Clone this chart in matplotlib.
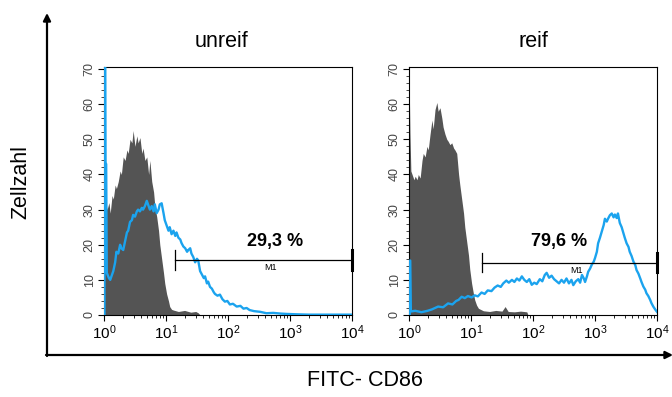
import numpy as np
import matplotlib
matplotlib.use("Agg")
import matplotlib.pyplot as plt
from matplotlib.patches import FancyArrowPatch
from matplotlib.ticker import LogLocator, LogFormatterMathtext, MultipleLocator, NullFormatter

plt.rcParams["font.family"] = ["Liberation Sans", "DejaVu Sans"]
plt.rcParams["mathtext.fontset"] = "custom"
plt.rcParams["mathtext.rm"] = "Liberation Sans"
plt.rcParams["mathtext.it"] = "Liberation Sans:italic"
plt.rcParams["mathtext.bf"] = "Liberation Sans:bold"

panel_titles   = ["unreif", "reif"]
percent_labels = ["29,3 %", "79,6 %"]
gate_start     = [1.15, 1.17]     # gate M1 start, log10 units
gate_level     = [15.7, 14.9]     # height of gate bar (counts)

# x values are in decades (log10 of fluorescence), y are cell counts
# --- unreif: isotype control (grey) ---
iso_unreif_x = [0.00, 0.00, 0.05, 0.08, 0.10, 0.13, 0.15, 0.18, 0.20, 0.23,
                0.26, 0.28, 0.31, 0.34, 0.37, 0.39, 0.42, 0.45, 0.47, 0.50,
                0.53, 0.55, 0.58, 0.61, 0.63, 0.66, 0.69, 0.72, 0.74, 0.77,
                0.80, 0.82, 0.85, 0.88, 0.90, 0.93, 0.96, 0.98, 1.01, 1.04,
                1.06, 1.09, 1.12, 1.20, 1.30, 1.40, 1.48, 1.52, 1.55]
iso_unreif_y = [0, 34, 30, 32, 29, 34, 33, 37, 36, 38,
                41, 40, 45, 44, 47, 46, 50, 49, 52.5, 48,
                51, 49, 50.5, 46, 47.5, 44, 45, 40, 44, 38,
                35, 31, 28, 24, 20, 16, 12, 9, 6, 4,
                2.4, 1.6, 1.4, 1.0, 1.3, 0.8, 1.0, 0.6, 0]

# --- unreif: CD86 stain (blue) ---
cd86_unreif_x = [0.008, 0.008, 0.02, 0.025, 0.035, 0.045, 0.08, 0.10, 0.12, 0.15,
                 0.18, 0.20, 0.23, 0.26, 0.28, 0.31, 0.34, 0.37, 0.39, 0.42,
                 0.45, 0.47, 0.50, 0.53, 0.55, 0.58, 0.61, 0.63, 0.66, 0.69,
                 0.72, 0.74, 0.77, 0.80, 0.82, 0.85, 0.88, 0.90, 0.93, 0.96,
                 0.98, 1.01, 1.04, 1.06, 1.09, 1.12, 1.15, 1.17, 1.20, 1.23,
                 1.25, 1.28, 1.31, 1.34, 1.36, 1.39, 1.41, 1.44, 1.47, 1.50,
                 1.52, 1.55, 1.58, 1.61, 1.63, 1.66, 1.68, 1.71, 1.74, 1.77,
                 1.79, 1.83, 1.87, 1.91, 1.95, 1.99, 2.03, 2.08, 2.14, 2.20,
                 2.25, 2.30, 2.35, 2.42, 2.52, 2.62, 2.73, 2.85, 2.95, 3.10,
                 3.30, 3.60, 4.00]
cd86_unreif_y = [0, 75, 75, 43, 43, 12, 10.5, 10, 11, 12.5,
                 15, 18, 17.5, 20, 19, 18.5, 21, 23.5, 24, 26.5,
                 27, 28.5, 28, 29.5, 30, 29.5, 30.5, 30, 31, 32.5,
                 31, 30, 31, 29.5, 31.5, 29, 30, 31.5, 31.8, 29,
                 27, 25.5, 24, 25, 23, 24, 22.5, 23.5, 22, 21.5,
                 20.5, 19.5, 19, 18, 18.5, 19, 17.5, 16.5, 15, 16,
                 15.5, 12.5, 11.5, 10.5, 11, 9, 9.5, 8, 7.5, 6.5,
                 6, 5.5, 5.8, 4.5, 3.8, 4, 3, 3.2, 2.4, 2.6,
                 1.8, 2, 1.4, 1.1, 0.9, 0.5, 0.6, 0.4, 0.3, 0.2,
                 0.1, 0.1, 0.1]

# --- reif: isotype control (grey) ---
iso_reif_x = [0.00, 0.00, 0.015, 0.03, 0.05, 0.08, 0.10, 0.13, 0.15, 0.18,
              0.21, 0.23, 0.26, 0.29, 0.31, 0.34, 0.37, 0.39, 0.42, 0.45,
              0.47, 0.50, 0.53, 0.55, 0.58, 0.61, 0.63, 0.66, 0.69, 0.72,
              0.74, 0.77, 0.80, 0.82, 0.85, 0.88, 0.90, 0.93, 0.96, 0.98,
              1.01, 1.04, 1.06, 1.09, 1.12, 1.20, 1.30, 1.40, 1.50, 1.55,
              1.60, 1.70, 1.80, 1.90, 1.92]
iso_reif_y = [0, 70, 52, 41, 40, 38.5, 39.5, 38.5, 40, 39,
              44, 46, 45, 48, 47, 51.5, 55.5, 53, 58.5, 60.5,
              58, 59, 56, 53.5, 51.5, 50, 49.5, 48.5, 49, 47.5,
              47, 46, 40, 37, 33, 29, 25, 21, 17, 13,
              9, 6, 4.3, 2.8, 1.9, 1.2, 1.0, 1.3, 1.1, 2.4,
              1.0, 0.9, 1.1, 0.9, 0]

# --- reif: CD86 stain (blue) ---
cd86_reif_x = [0.012, 0.012, 0.02, 0.03, 0.10, 0.20, 0.30, 0.37, 0.42, 0.47, 0.55,
               0.63, 0.70, 0.76, 0.80, 0.85, 0.90, 0.95, 1.01, 1.06, 1.11,
               1.17, 1.22, 1.27, 1.33, 1.38, 1.43, 1.48, 1.52, 1.57, 1.61,
               1.66, 1.70, 1.74, 1.78, 1.82, 1.86, 1.90, 1.94, 1.98, 2.02,
               2.06, 2.11, 2.15, 2.19, 2.22, 2.26, 2.30, 2.34, 2.38, 2.42,
               2.46, 2.50, 2.54, 2.58, 2.62, 2.65, 2.69, 2.73, 2.76, 2.79,
               2.82, 2.84, 2.87, 2.89, 2.92, 2.95, 2.98, 3.00, 3.03, 3.05,
               3.08, 3.11, 3.14, 3.16, 3.19, 3.21, 3.24, 3.27, 3.30, 3.32,
               3.35, 3.37, 3.40, 3.43, 3.46, 3.48, 3.51, 3.54, 3.56, 3.59,
               3.62, 3.65, 3.67, 3.70, 3.73, 3.75, 3.78, 3.81, 3.83, 3.86,
               3.89, 3.91, 3.94, 3.97, 4.00]
cd86_reif_y = [0, 15.5, 15.5, 1.0, 1.2, 0.8, 1.2, 1.6, 2.0, 2.4, 2.2,
               3.3, 3.0, 4.0, 4.3, 5.2, 4.8, 5.4, 5.0, 5.6, 5.3,
               6.4, 6.0, 7.0, 6.8, 7.8, 8.4, 8.0, 9.0, 9.8, 9.2,
               10.0, 9.4, 10.4, 9.8, 11.0, 10.0, 9.4, 10.2, 8.6, 9.2,
               8.8, 10.2, 9.6, 11.4, 12.0, 10.6, 11.2, 10.2, 9.6, 9.0,
               10.0, 9.2, 10.4, 9.0, 10.0, 8.5, 9.6, 10.2, 9.2, 11.4,
               10.4, 9.4, 11.0, 12.3, 13.2, 14.4, 15.2, 16.2, 18.0, 20.4,
               22.0, 23.8, 25.6, 27.4, 26.6, 27.4, 28.4, 28.9, 27.8, 28.6,
               27.6, 28.9, 26.2, 25.0, 23.2, 22.0, 20.4, 19.4, 18.0, 16.8,
               15.2, 14.2, 12.8, 11.8, 10.4, 9.4, 8.1, 7.2, 6.2, 5.4,
               4.3, 3.4, 2.4, 1.6, 0.9]

iso_x  = [iso_unreif_x, iso_reif_x]
iso_y  = [iso_unreif_y, iso_reif_y]
cd86_x = [cd86_unreif_x, cd86_reif_x]
cd86_y = [cd86_unreif_y, cd86_reif_y]

GREY = "#545454"
BLUE = "#1ba3ee"
W, H = 672, 397

fig = plt.figure(figsize=(W / 100, H / 100), dpi=100)


def px_axes(x0, y0, w, h):
    # pixel box (top-left origin) -> figure fraction
    return fig.add_axes([x0 / W, 1 - (y0 + h) / H, w / W, h / H])


panel_left = [104, 409]
title_x    = [222, 533]
pct_pos    = [2.76, 2.42]
m1_pos     = [2.68, 2.70]

for i in range(2):
    ax = px_axes(panel_left[i], 67, 248, 248)
    ax.fill_between(np.power(10.0, iso_x[i]), iso_y[i], 0,
                    color=GREY, lw=0, zorder=1)
    # blue drawn above the spines so the first-channel spike shows
    ax.plot(np.power(10.0, cd86_x[i]), cd86_y[i], color=BLUE, lw=1.7, zorder=3)

    # M1 gate
    g0 = 10 ** gate_start[i]
    lvl = gate_level[i]
    ax.plot([g0, 1e4], [lvl, lvl], color="black", lw=0.9, zorder=4)
    ax.plot([g0, g0], [lvl - 2.8, lvl + 2.8], color="black", lw=0.9, zorder=4)
    ax.plot([1e4, 1e4], [lvl - 2.8, lvl + 2.8], color="black", lw=2.2,
            zorder=4, clip_on=False)
    ax.text(10 ** m1_pos[i], lvl - 1.0, "M1", fontsize=6.5, ha="center",
            va="top", zorder=5)
    ax.text(10 ** pct_pos[i], 21.0, percent_labels[i], fontsize=13,
            fontweight="bold", ha="center", va="center", zorder=5)

    ax.set_xscale("log")
    ax.set_xlim(1, 1e4)
    ax.set_ylim(0, 70.6)
    ax.xaxis.set_major_locator(LogLocator(base=10, numticks=10))
    ax.xaxis.set_major_formatter(LogFormatterMathtext())
    ax.xaxis.set_minor_locator(LogLocator(base=10, subs=np.arange(2, 10), numticks=20))
    ax.xaxis.set_minor_formatter(NullFormatter())
    ax.set_yticks(np.arange(0, 71, 10))
    ax.yaxis.set_minor_locator(MultipleLocator(2))

    ax.tick_params(axis="x", which="major", direction="out", length=4,
                   width=0.8, labelsize=11, pad=2)
    ax.tick_params(axis="x", which="minor", direction="out", length=2.5, width=0.6)
    ax.tick_params(axis="y", which="major", direction="out", length=4,
                   width=0.8, labelsize=9, labelcolor="#444444",
                   labelrotation=90, pad=2)
    ax.tick_params(axis="y", which="minor", direction="out", length=2, width=0.5)
    for lab in ax.get_yticklabels():
        lab.set_va("center")
    for sp in ax.spines.values():
        sp.set_linewidth(0.8)
        sp.set_color("black")

    fig.text(title_x[i] / W, 1 - 47 / H, panel_titles[i], fontsize=15.5,
             ha="center", va="baseline")

# outer axis arrows
fig.add_artist(FancyArrowPatch((47 / W, 1 - 356 / H), (47 / W, 1 - 13 / H),
                               transform=fig.transFigure, arrowstyle="-|>",
                               mutation_scale=11, lw=1.6, color="black",
                               shrinkA=0, shrinkB=0))
fig.add_artist(FancyArrowPatch((46 / W, 1 - 355 / H), (673 / W, 1 - 355 / H),
                               transform=fig.transFigure, arrowstyle="-|>",
                               mutation_scale=11, lw=1.6, color="black",
                               shrinkA=0, shrinkB=0))

fig.text(21 / W, 1 - 182 / H, "Zellzahl", fontsize=15.5, rotation=90,
         ha="center", va="center")
fig.text(365 / W, 1 - 381 / H, "FITC- CD86", fontsize=15.5,
         ha="center", va="center")

fig.savefig("out.png", dpi=100)
